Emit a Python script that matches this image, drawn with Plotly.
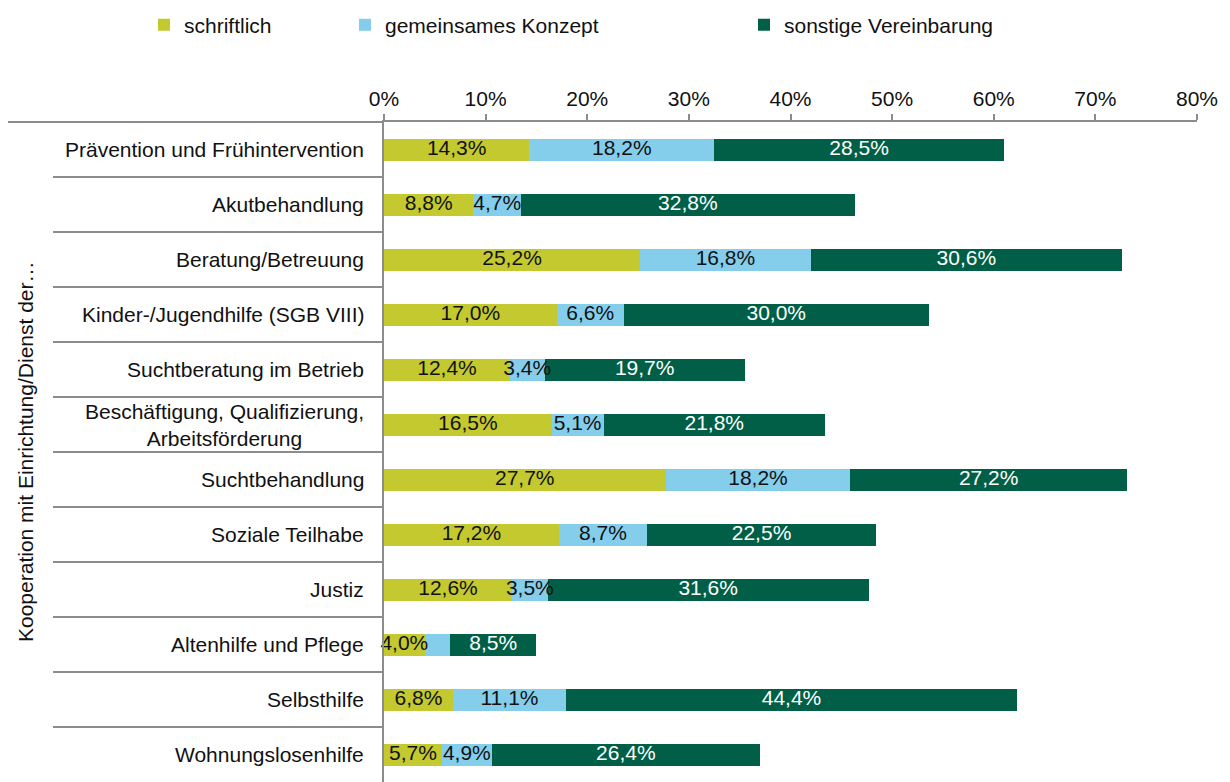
import plotly.graph_objects as go

categories = [
    "Prävention und Frühintervention",
    "Akutbehandlung",
    "Beratung/Betreuung",
    "Kinder-/Jugendhilfe (SGB VIII)",
    "Suchtberatung im Betrieb",
    "Beschäftigung, Qualifizierung,<br>Arbeitsförderung",
    "Suchtbehandlung",
    "Soziale Teilhabe",
    "Justiz",
    "Altenhilfe und Pflege",
    "Selbsthilfe",
    "Wohnungslosenhilfe",
]
schriftlich = [14.3, 8.8, 25.2, 17.0, 12.4, 16.5, 27.7, 17.2, 12.6, 4.0, 6.8, 5.7]
konzept = [18.2, 4.7, 16.8, 6.6, 3.4, 5.1, 18.2, 8.7, 3.5, 2.5, 11.1, 4.9]
sonstige = [28.5, 32.8, 30.6, 30.0, 19.7, 21.8, 27.2, 22.5, 31.6, 8.5, 44.4, 26.4]
series_names = ["schriftlich", "gemeinsames Konzept", "sonstige Vereinbarung"]
tick_vals = [0, 10, 20, 30, 40, 50, 60, 70, 80]
tick_text = ["0%", "10%", "20%", "30%", "40%", "50%", "60%", "70%", "80%"]
y_title = "Kooperation mit Einrichtung/Dienst der…"

colors = ["#C3C92F", "#84CDEB", "#005F46"]
label_colors = ["#111111", "#111111", "#FFFFFF"]
FONT = "Liberation Sans, Arial, sans-serif"
FS = 21

# page body has an 8px margin; size the figure so it fills the window
OFF = 8
W, H = 1230 - OFF, 782 - OFF
L, T = 384 - OFF, 122 - OFF
R, B = W - (1197 - OFF), 0
PW = W - L - R

def page_x(px):
    return (px - OFF - L) / PW

fig = go.Figure()
series = [schriftlich, konzept, sonstige]
legend_ids = ["legend", "legend2", "legend3"]
for vals, name, col, lid in zip(series, series_names, colors, legend_ids):
    fig.add_trace(go.Bar(
        y=categories, x=vals, orientation="h", name=name,
        marker=dict(color=col, line=dict(width=0)),
        legend=lid, hoverinfo="skip",
    ))

# data labels drawn above all bars
base = [0.0] * len(categories)
for vals, col in zip(series, label_colors):
    mids = [b + v / 2 for b, v in zip(base, vals)]
    texts = [("%.1f%%" % v).replace(".", ",") if v >= 3 else "" for v in vals]
    fig.add_trace(go.Scatter(
        y=categories, x=mids, mode="text", text=texts,
        textposition="middle center",
        textfont=dict(family=FONT, size=FS, color=col),
        showlegend=False, hoverinfo="skip", cliponaxis=False,
    ))
    base = [b + v for b, v in zip(base, vals)]

axis_col = "#8C8C8C"
shapes = []
shapes.append(dict(type="line", xref="paper", yref="paper",
                   x0=page_x(8), x1=0, y0=1, y1=1,
                   line=dict(color=axis_col, width=2)))
for i in range(1, len(categories)):
    shapes.append(dict(type="line", xref="paper", yref="y",
                       x0=page_x(53), x1=0, y0=i - 0.5, y1=i - 0.5,
                       line=dict(color=axis_col, width=2)))

annotations = []
for c in categories:
    annotations.append(dict(
        x=page_x(366), xref="paper", y=c, yref="y",
        text=c, showarrow=False, xanchor="right", yanchor="middle", align="center",
        font=dict(family=FONT, size=FS, color="#111111"),
    ))
annotations.append(dict(
    x=page_x(25), xref="paper", y=0.5, yref="paper",
    text=y_title, textangle=-90, showarrow=False, xanchor="center", yanchor="middle",
    font=dict(family=FONT, size=FS, color="#111111"),
))

legend_text_x = [186, 387, 786]
leg_common = dict(orientation="h", yref="container", y=1 - (25 - OFF) / H, yanchor="middle",
                  xanchor="left", font=dict(family=FONT, size=FS, color="#111111"),
                  bgcolor="rgba(0,0,0,0)", itemwidth=30)

n = len(categories)
fig.update_layout(
    width=W, height=H,
    margin=dict(l=L, r=R, t=T, b=B, pad=0, autoexpand=False),
    barmode="stack", bargap=0.6,
    plot_bgcolor="white", paper_bgcolor="white",
    font=dict(family=FONT, size=FS, color="#111111"),
    xaxis=dict(side="top", range=[0, 80], tickvals=tick_vals, ticktext=tick_text,
               showgrid=False, zeroline=False, showline=True, linecolor=axis_col, linewidth=2,
               ticks="outside", ticklen=6, tickwidth=2, tickcolor=axis_col,
               tickfont=dict(family=FONT, size=FS, color="#111111"), fixedrange=True),
    yaxis=dict(categoryorder="array", categoryarray=categories, range=[n - 0.5, -0.5],
               showticklabels=False, showgrid=False, zeroline=False,
               showline=True, linecolor=axis_col, linewidth=2, ticks=""),
    shapes=shapes,
    annotations=annotations,
    legend=dict(x=page_x(legend_text_x[0] - 42), **leg_common),
    legend2=dict(x=page_x(legend_text_x[1] - 42), **leg_common),
    legend3=dict(x=page_x(legend_text_x[2] - 42), **leg_common),
)

fig.write_html("out.html")
